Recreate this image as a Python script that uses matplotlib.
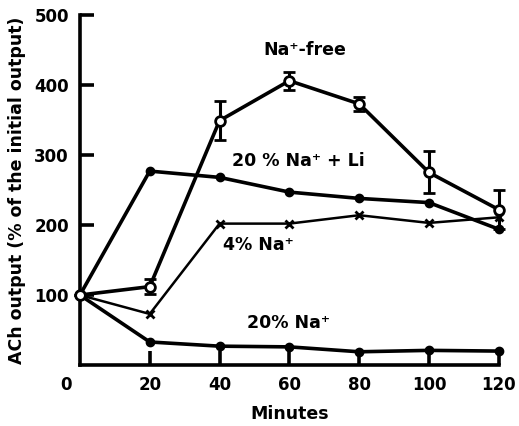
import matplotlib.pyplot as plt

plt.rcParams["font.family"] = ["DejaVu Sans"]
plt.rcParams["font.weight"] = "bold"

minutes = [0, 20, 40, 60, 80, 100, 120]

# ACh output, % of the initial output
na_free = [100, 112, 349, 406, 373, 275, 222]
na_free_err = [0, 11, 28, 13, 10, 30, 28]
na20_li = [100, 277, 268, 247, 238, 232, 194]
na4 = [100, 73, 202, 202, 214, 203, 211]
na20 = [100, 33, 27, 26, 19, 21, 20]

x_ticks = [20, 40, 60, 80, 100, 120]
y_ticks = [100, 200, 300, 400, 500]

fig = plt.figure(figsize=(5.19, 4.26), dpi=100)
ax = fig.add_axes([0.154, 0.143, 0.807, 0.822])

ax.plot(minutes, na20_li, color="black", lw=2.6, marker="o", ms=6,
        mfc="black", clip_on=False, zorder=3)
ax.plot(minutes, na4, color="black", lw=1.8, marker="x", ms=6, mew=2,
        clip_on=False, zorder=3)
ax.plot(minutes, na20, color="black", lw=2.6, marker="o", ms=6,
        mfc="black", clip_on=False, zorder=3)
ax.errorbar(minutes, na_free, yerr=na_free_err, color="black", lw=2.6,
            marker="o", ms=7, mfc="white", mec="black", mew=2,
            elinewidth=2.2, capsize=4, capthick=2.2, clip_on=False, zorder=4)

ax.set_xlim(0, 120)
ax.set_ylim(0, 500)
ax.spines["top"].set_visible(False)
ax.spines["right"].set_visible(False)
ax.spines["left"].set_linewidth(2.6)
ax.spines["bottom"].set_linewidth(2.6)
ax.set_xticks(x_ticks)
ax.set_yticks(y_ticks)
ax.tick_params(direction="in", length=10, width=2.6, labelsize=12, pad=8)
ax.text(-4, -28, "0", ha="center", va="center", fontsize=12,
        fontweight="bold", clip_on=False)

ax.set_xlabel("Minutes", fontsize=12.5, fontweight="bold", labelpad=8)
ax.set_ylabel("ACh output (% of the initial output)", fontsize=12.5,
              fontweight="bold", labelpad=6)

label_kw = dict(fontsize=12.5, fontweight="bold", ha="left", va="center")
ax.text(52.5, 450, "Na\u207a-free", **label_kw)
ax.text(43.5, 291, "20 % Na\u207a + Li", **label_kw)
ax.text(41, 172, "4% Na\u207a", **label_kw)
ax.text(48, 60, "20% Na\u207a", **label_kw)

fig.savefig("out.png", dpi=100)
